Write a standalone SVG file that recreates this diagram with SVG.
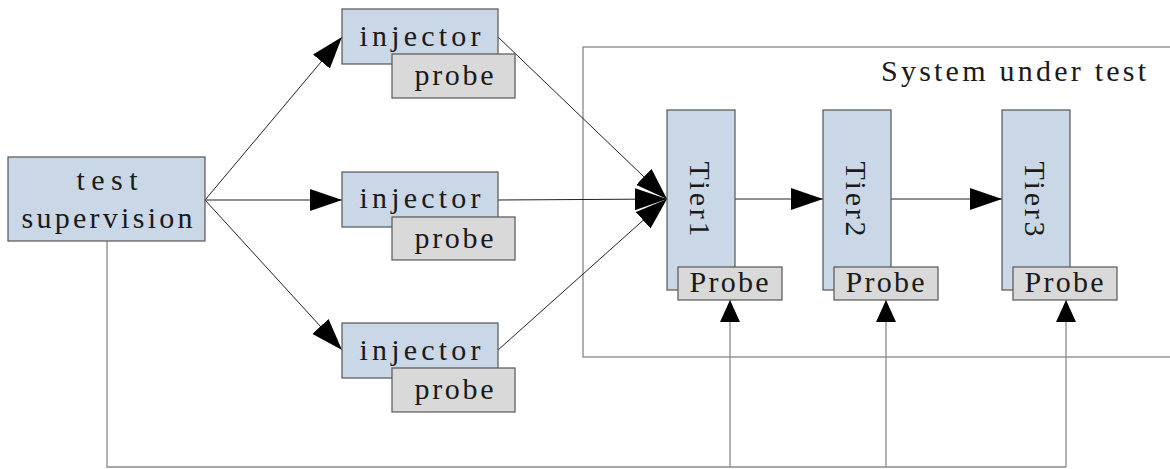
<svg xmlns="http://www.w3.org/2000/svg" width="1170" height="469" viewBox="0 0 1170 469">
<style>
.b{fill:#c9d7e7;stroke:#555;stroke-width:1.2}
.p{fill:#d9d9d9;stroke:#555;stroke-width:1.2}
.t{font-family:"Liberation Serif","DejaVu Serif",serif;font-size:30px;fill:#1a1a1a;text-anchor:middle}
.c{stroke:#222;stroke-width:1;fill:none}
.g{stroke:#8a8a8a;stroke-width:1.3;fill:none}
</style>
<defs>
<marker id="a" markerWidth="32" markerHeight="22" refX="32" refY="11" orient="auto" markerUnits="userSpaceOnUse"><path d="M0,0 L32,11 L0,22 z" fill="#000"/></marker>
<marker id="s" markerWidth="22" markerHeight="20" refX="22" refY="10" orient="auto" markerUnits="userSpaceOnUse"><path d="M0,0 L22,10 L0,20 z" fill="#000"/></marker>
</defs>
<rect id="sut" x="583" y="47" width="620" height="310" fill="#fff" stroke="#888" stroke-width="1.3"/>
<text class="t" x="1146" y="81" style="text-anchor:end" textLength="265" lengthAdjust="spacing">System under test</text>
<g id="connectors">
<line class="c" x1="205" y1="200" x2="342" y2="37" marker-end="url(#a)"/>
<line class="c" x1="205" y1="200" x2="342" y2="200" marker-end="url(#a)"/>
<line class="c" x1="205" y1="200" x2="342" y2="350" marker-end="url(#a)"/>
<line class="c" x1="498" y1="37" x2="667" y2="199" marker-end="url(#a)"/>
<line class="c" x1="498" y1="200" x2="667" y2="199" marker-end="url(#a)"/>
<line class="c" x1="498" y1="350" x2="667" y2="199" marker-end="url(#a)"/>
<line class="c" x1="735" y1="199" x2="823" y2="199" marker-end="url(#a)"/>
<line class="c" x1="891" y1="199" x2="1002" y2="199" marker-end="url(#a)"/>
<polyline class="g" points="107,241 107,467 1066,467"/>
<line class="g" x1="730" y1="467" x2="730" y2="300" marker-end="url(#s)"/>
<line class="g" x1="886" y1="467" x2="886" y2="300" marker-end="url(#s)"/>
<line class="g" x1="1066" y1="467" x2="1066" y2="300" marker-end="url(#s)"/>
</g>
<g id="supervision">
<rect class="b" x="8" y="157" width="197" height="84"/>
<text class="t" x="107" y="190" textLength="61" lengthAdjust="spacing">test</text>
<text class="t" x="107" y="228" textLength="171" lengthAdjust="spacing">supervision</text>
</g>
<g id="injector1">
<rect class="b" x="342" y="9" width="156" height="55"/>
<text class="t" x="420" y="46" textLength="121" lengthAdjust="spacing">injector</text>
</g>
<g id="probe1">
<rect class="p" x="392" y="54" width="123" height="44"/>
<text class="t" x="454" y="85" textLength="79" lengthAdjust="spacing">probe</text>
</g>
<g id="injector2">
<rect class="b" x="342" y="172" width="156" height="55"/>
<text class="t" x="420" y="208" textLength="121" lengthAdjust="spacing">injector</text>
</g>
<g id="probe2">
<rect class="p" x="392" y="217" width="123" height="43"/>
<text class="t" x="454" y="248" textLength="79" lengthAdjust="spacing">probe</text>
</g>
<g id="injector3">
<rect class="b" x="342" y="323" width="156" height="55"/>
<text class="t" x="420" y="360" textLength="121" lengthAdjust="spacing">injector</text>
</g>
<g id="probe3">
<rect class="p" x="392" y="368" width="123" height="44"/>
<text class="t" x="454" y="399" textLength="79" lengthAdjust="spacing">probe</text>
</g>
<g id="tier1">
<rect class="b" x="667" y="110" width="68" height="180"/>
<text class="t" transform="translate(690,199) rotate(90)" x="0" y="0" textLength="75" lengthAdjust="spacing">Tier1</text>
</g>
<g id="tierprobe1">
<rect class="p" x="678" y="267" width="104" height="33"/>
<text class="t" x="729" y="292" textLength="79" lengthAdjust="spacing">Probe</text>
</g>
<g id="tier2">
<rect class="b" x="823" y="110" width="68" height="180"/>
<text class="t" transform="translate(846,199) rotate(90)" x="0" y="0" textLength="75" lengthAdjust="spacing">Tier2</text>
</g>
<g id="tierprobe2">
<rect class="p" x="834" y="267" width="104" height="33"/>
<text class="t" x="885" y="292" textLength="79" lengthAdjust="spacing">Probe</text>
</g>
<g id="tier3">
<rect class="b" x="1002" y="110" width="68" height="180"/>
<text class="t" transform="translate(1025,199) rotate(90)" x="0" y="0" textLength="75" lengthAdjust="spacing">Tier3</text>
</g>
<g id="tierprobe3">
<rect class="p" x="1013" y="267" width="104" height="33"/>
<text class="t" x="1064" y="292" textLength="79" lengthAdjust="spacing">Probe</text>
</g>
</svg>
